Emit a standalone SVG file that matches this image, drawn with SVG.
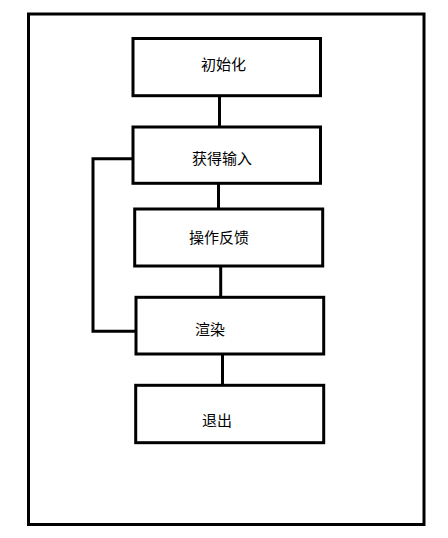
<svg xmlns="http://www.w3.org/2000/svg" width="448" height="538" viewBox="0 0 448 538">
<style>
.box{fill:#fff;stroke:#000;stroke-width:3}
.ln{fill:none;stroke:#000;stroke-width:3}
.t{font-family:"Microsoft YaHei","Noto Sans CJK SC",sans-serif;font-size:15px;fill:#000}
</style>
<rect width="448" height="538" fill="#fff"/>
<rect id="frame" class="ln" x="28.5" y="14" width="395.5" height="510.5"/>
<g id="connectors">
<line class="ln" x1="219.5" y1="95.7" x2="219.5" y2="127"/>
<line class="ln" x1="218.5" y1="183.3" x2="218.5" y2="209"/>
<line class="ln" x1="220.7" y1="266" x2="220.7" y2="297.3"/>
<line class="ln" x1="222.5" y1="354" x2="222.5" y2="385.3"/>
<polyline class="ln" points="133,158.7 93,158.7 93,331.3 136,331.3"/>
</g>
<g id="init"><rect class="box" x="133" y="38.5" width="187.5" height="57.2"/><text class="t" x="201" y="70">初始化</text></g>
<g id="input"><rect class="box" x="133" y="127" width="187.5" height="56.3"/><text class="t" x="192" y="164">获得输入</text></g>
<g id="feedback"><rect class="box" x="134.7" y="209" width="188" height="57"/><text class="t" x="189" y="243">操作反馈</text></g>
<g id="render"><rect class="box" x="136" y="297.3" width="187.7" height="56.7"/><text class="t" x="195" y="335">渲染</text></g>
<g id="exit"><rect class="box" x="135.7" y="385.3" width="188" height="57.4"/><text class="t" x="202" y="426">退出</text></g>
</svg>
